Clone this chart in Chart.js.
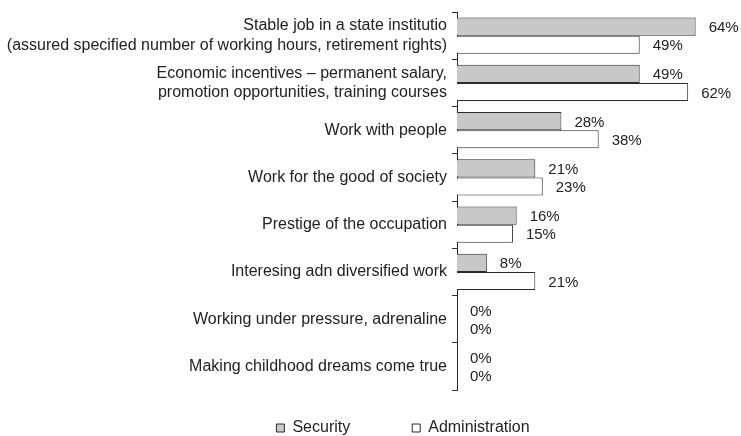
<!DOCTYPE html>
<html>
<head>
<meta charset="utf-8">
<script src="https://cdn.jsdelivr.net/npm/chart.js@4.4.1/dist/chart.umd.min.js"></script>
<style>
  html, body { margin: 0; padding: 0; background: #fff; }
  #wrap { width: 741px; height: 436px; }
</style>
</head>
<body>
<div id="wrap"><canvas id="idChart"></canvas></div>
<script>
    const categories = [
        ['Stable job in a state institutio', '(assured specified number of working hours, retirement rights)'],
        ['Economic incentives \u2013 permanent salary,', 'promotion opportunities, training courses'],
        'Work with people',
        'Work for the good of society',
        'Prestige of the occupation',
        'Interesing adn diversified work',
        'Working under pressure, adrenaline',
        'Making childhood dreams come true'
    ];
    const security_values = [64, 49, 28, 21, 16, 8, 0, 0];
    const admin_values = [49, 62, 38, 23, 15, 21, 0, 0];

    const textColor = '#222';
    const fontFamily = '"Liberation Sans", Arial, sans-serif';

    // draws the "64%" labels at the end of each bar
    const valueLabels = {
        id: 'valueLabels',
        afterDatasetsDraw(chart) {
            const ctx = chart.ctx;
            ctx.save();
            ctx.font = '15px ' + fontFamily;
            ctx.fillStyle = textColor;
            ctx.textAlign = 'left';
            ctx.textBaseline = 'middle';
            chart.data.datasets.forEach((ds, i) => {
                const meta = chart.getDatasetMeta(i);
                meta.data.forEach((bar, j) => {
                    ctx.fillText(ds.data[j] + '%', bar.x + 13, bar.y + 1.5);
                });
            });
            ctx.restore();
        }
    };

    // legend in the original sits a bit right of the page centre
    const legendShift = {
        id: 'legendShift',
        afterLayout(chart) {
            chart.legend.left += 44;
            chart.legend.right += 44;
        }
    };

    var data = {
        labels: categories,
        datasets: [
            {
                label: 'Security',
                data: security_values,
                backgroundColor: '#c8c8c8',
                borderColor: '#2a2a2a',
                borderWidth: 1,
                categoryPercentage: 0.77,
                barPercentage: 1
            },
            {
                label: 'Administration',
                data: admin_values,
                backgroundColor: '#fff',
                borderColor: '#2a2a2a',
                borderWidth: 1,
                categoryPercentage: 0.77,
                barPercentage: 1
            }
        ]
    };

    var ctx = document.getElementById('idChart').getContext('2d');
    var idChart = new Chart(ctx, {
        type: 'bar',
        data: data,
        options: {
            indexAxis: 'y',
            responsive: true,
            maintainAspectRatio: false,
            animation: false,
            layout: {
                padding: { top: 12, right: 23, left: 0, bottom: 0 }
            },
            scales: {
                x: {
                    display: false,
                    min: 0,
                    max: 70
                },
                y: {
                    afterFit: function (scale) {
                        scale.width = 457;
                        scale.paddingTop = 0;
                        scale.paddingBottom = 0;
                    },
                    grid: {
                        offset: true,
                        drawOnChartArea: false,
                        tickLength: 5,
                        color: '#2a2a2a'
                    },
                    border: { color: '#2a2a2a', width: 1 },
                    ticks: {
                        color: textColor,
                        padding: 5,
                        font: { family: fontFamily, size: 16 }
                    }
                }
            },
            plugins: {
                legend: {
                    position: 'bottom',
                    maxHeight: 46,
                    labels: {
                        boxWidth: 8,
                        boxHeight: 8,
                        padding: 30,
                        color: textColor,
                        font: { family: fontFamily, size: 16 },
                        generateLabels: function (chart) {
                            const items = Chart.defaults.plugins.legend.labels.generateLabels(chart);
                            items[0].text = items[0].text + '\u2002\u2002\u2002\u2002';
                            return items;
                        }
                    }
                },
                tooltip: { enabled: false }
            }
        },
        plugins: [valueLabels, legendShift]
    });
</script>
</body>
</html>
